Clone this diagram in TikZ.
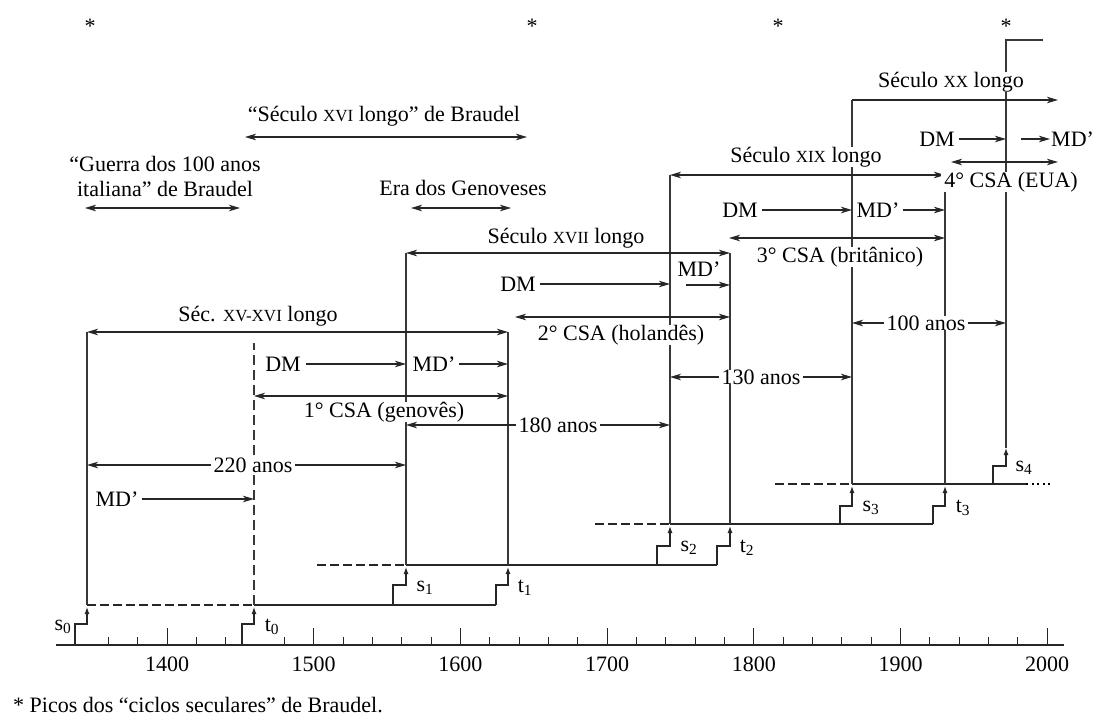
\documentclass[tikz,border=0pt]{standalone}
\usepackage{fontspec}
\setmainfont{Liberation Serif}
\usetikzlibrary{arrows.meta}
\newcommand{\romsc}[1]{{\fontsize{17}{20}\selectfont #1}}
\begin{document}
\begin{tikzpicture}[x=1pt,y=-1pt,
  txt/.style={font=\fontsize{22}{25}\selectfont, inner sep=1pt},
  gap/.style={txt, fill=white, inner xsep=3pt, inner ysep=0pt},
  vline/.style={line width=2.6pt, draw=black!78},
  hl/.style={line width=1.1pt, draw=black!85},
  dbl/.style={hl, {Stealth[length=11pt,width=6.5pt,inset=3pt]}-{Stealth[length=11pt,width=6.5pt,inset=3pt]}},
  rar/.style={hl, -{Stealth[length=11pt,width=6.5pt,inset=3pt]}},
  lev/.style={line width=1.4pt, draw=black!85},
  dlev/.style={lev, dash pattern=on 9pt off 4pt},
  stp/.style={line width=1.2pt, draw=black!85, -{Latex[length=7pt,width=5pt]}},
  tickmark/.style={line width=1pt, draw=black!85},
]
\useasboundingbox (0,0) rectangle (1099,719);

% ---------- named points of the vertical lines ----------
\coordinate (s0b) at (87,605);   \coordinate (s0t) at (87,332);
\coordinate (t0b) at (254,605);  \coordinate (t0t) at (254,343);
\coordinate (s1b) at (406,565);  \coordinate (s1t) at (406,253);
\coordinate (t1b) at (508,565);  \coordinate (t1t) at (508,332);
\coordinate (s2b) at (670,524);  \coordinate (s2t) at (670,175);
\coordinate (t2b) at (730,524);  \coordinate (t2t) at (730,253);
\coordinate (s3b) at (852,484);  \coordinate (s3t) at (852,100);
\coordinate (t3b) at (945,484);  \coordinate (t3t) at (945,175);
\coordinate (s4b) at (1006,448); \coordinate (s4t) at (1006,40); \coordinate (s4r) at (1043,40);

% ---------- time axis ----------
\coordinate (ax0) at (56,645); \coordinate (ax1) at (1064,645);
\draw[lev] (ax0) -- (ax1);
\foreach \yr in {1360,1380,...,2000}{
  \ifnum\yr=1460\relax\else
  \pgfmathsetmacro{\xx}{167+(\yr-1400)*1.467}
  \pgfmathsetmacro{\hh}{mod(\yr,100)==0 ? 17 : 8}
  \draw[tickmark] (\xx,645) -- (\xx,645-\hh);
  \fi
}
\foreach \yr in {1400,1500,...,2000}{
  \node[txt] (y\yr) at ({167+(\yr-1400)*1.467},664) {\yr};
}

% ---------- levels ----------
\coordinate (t1s) at (496,605);
\coordinate (L2a) at (317,565); \coordinate (t2s) at (717,565);
\coordinate (L3a) at (595,524); \coordinate (t3s) at (933,524);
\coordinate (L4a) at (775,484); \coordinate (L4e) at (1026,484); \coordinate (L4d) at (1050,484);
\draw[dlev] (s0b) -- (t0b);
\draw[lev] (t0b) -- (t1s);
\draw[dlev] (L2a) -- (s1b);
\draw[lev] (s1b) -- (t2s);
\draw[dlev] (L3a) -- (s2b);
\draw[lev] (s2b) -- (t3s);
\draw[dlev] (L4a) -- (s3b);
\draw[lev] (s3b) -- (L4e);
\draw[line width=1.8pt, dash pattern=on 2pt off 3.5pt] (L4e) -- (L4d);

% ---------- small steps with arrows ----------
\draw[stp] (75,645) |- (87,624) -- (87,607);
\draw[stp] (242,645) |- (254,624) -- (254,607);
\draw[stp] (393,605) |- (406,585) -- (406,567);
\draw[stp] (496,605) |- (508,585) -- (508,567);
\draw[stp] (657,565) |- (670,546) -- (670,526);
\draw[stp] (717,565) |- (730,546) -- (730,526);
\draw[stp] (840,524) |- (852,506) -- (852,486);
\draw[stp] (933,524) |- (945,506) -- (945,486);
\draw[stp] (993,484) |- (1006,466) -- (1006,448);
\node[txt] (ls0) at (63,627) {s\textsubscript{0}};
\node[txt] (lt0) at (272,627) {t\textsubscript{0}};
\node[txt] (ls1) at (425,588) {s\textsubscript{1}};
\node[txt] (lt1) at (525,588) {t\textsubscript{1}};
\node[txt] (ls2) at (689,548) {s\textsubscript{2}};
\node[txt] (lt2) at (747,548) {t\textsubscript{2}};
\node[txt] (ls3) at (871,508) {s\textsubscript{3}};
\node[txt] (lt3) at (963,508) {t\textsubscript{3}};
\node[txt] (ls4) at (1024,468) {s\textsubscript{4}};

% ---------- vertical lines ----------
\draw[vline] (s0b) -- (s0t);
\draw[vline, dash pattern=on 10pt off 5pt] (t0b) -- (t0t);
\draw[vline] (s1b) -- (s1t);
\draw[vline] (t1b) -- (t1t);
\draw[vline] (s2b) -- (s2t);
\draw[vline] (t2b) -- (t2t);
\draw[vline] (s3b) -- (s3t);
\draw[vline] (t3b) -- (t3t);
\draw[vline] (s4b) -- (s4t) -- (s4r);

% ---------- long centuries ----------
\coordinate (xxe) at (1058,100);
\draw[dbl] (s0t) -- (t1t);
\draw[dbl] (s1t) -- (t2t);
\draw[dbl] (s2t) -- (t3t);
\draw[rar] (s3t) -- (xxe);
\node[txt] (c15) at (258,316) {Séc. \romsc{XV-XVI} longo};
\node[txt] (c17) at (566,238) {Século \romsc{XVII} longo};
\node[gap] (c19) at (806,157) {Século \romsc{XIX} longo};
\node[gap] (c20) at (951,82) {Século \romsc{XX} longo};

% ---------- Braudel's periods ----------
\node[txt] (st1) at (90,26) {*};
\node[txt] (st2) at (532,26) {*};
\node[txt] (st3) at (778,26) {*};
\node[txt] (st4) at (1006,26) {*};
\node[txt] (b16) at (384,116) {“Século \romsc{XVI} longo” de Braudel};
\coordinate (b16l) at (245,137); \coordinate (b16r) at (527,137);
\draw[dbl] (b16l) -- (b16r);
\node[txt, align=center] (g100) at (165,176) {“Guerra dos 100 anos\\italiana” de Braudel};
\coordinate (g100l) at (85,208); \coordinate (g100r) at (240,208);
\draw[dbl] (g100l) -- (g100r);
\node[txt] (gen) at (463,188) {Era dos Genoveses};
\coordinate (genl) at (411,208); \coordinate (genr) at (511,208);
\draw[dbl] (genl) -- (genr);

% ---------- 1st cycle (Genoese) ----------
\node[txt] (dm1) at (283,364) {DM};
\coordinate (dm1e) at (406,364);
\draw[rar] (dm1.east) ++(4,0) -- (dm1e);
\node[txt] (md1) at (434,364) {MD’};
\coordinate (md1e) at (508,364);
\draw[rar] (md1.east) ++(2,0) -- (md1e);
\coordinate (csa1l) at (254,396); \coordinate (csa1r) at (508,396);
\draw[dbl] (csa1l) -- (csa1r);
\node[gap] (csa1) at (384,412) {1° CSA (genovês)};
\coordinate (a180l) at (406,425); \coordinate (a180r) at (670,425);
\draw[dbl] (a180l) -- (a180r);
\node[gap] (n180) at (558,425) {180 anos};
\coordinate (a220l) at (87,465); \coordinate (a220r) at (406,465);
\draw[dbl] (a220l) -- (a220r);
\node[gap] (n220) at (253,465) {220 anos};
\node[txt] (md0) at (117,499) {MD’};
\coordinate (md0e) at (254,499);
\draw[rar] (md0.east) ++(2,0) -- (md0e);

% ---------- 2nd cycle (Dutch) ----------
\node[txt] (dm2) at (518,284) {DM};
\coordinate (dm2e) at (670,284);
\draw[rar] (dm2.east) ++(3,0) -- (dm2e);
\node[txt] (md2) at (699,269) {MD’};
\coordinate (md2s) at (686,285); \coordinate (md2e) at (730,285);
\draw[rar] (md2s) -- (md2e);
\coordinate (csa2l) at (515,317); \coordinate (csa2r) at (730,317);
\draw[dbl] (csa2l) -- (csa2r);
\node[gap] (csa2) at (621,335) {2° CSA (holandês)};
\coordinate (a130l) at (670,377); \coordinate (a130r) at (852,377);
\draw[dbl] (a130l) -- (a130r);
\node[gap] (n130) at (761,377) {130 anos};

% ---------- 3rd cycle (British) ----------
\node[txt] (dm3) at (740,210) {DM};
\coordinate (dm3e) at (852,210);
\draw[rar] (dm3.east) ++(3,0) -- (dm3e);
\node[txt] (md3) at (878,210) {MD’};
\coordinate (md3e) at (945,210);
\draw[rar] (md3.east) ++(2,0) -- (md3e);
\coordinate (csa3l) at (729,238); \coordinate (csa3r) at (945,238);
\draw[dbl] (csa3l) -- (csa3r);
\node[gap] (csa3) at (840,257) {3° CSA (britânico)};
\coordinate (a100l) at (852,323); \coordinate (a100r) at (1006,323);
\draw[dbl] (a100l) -- (a100r);
\node[gap] (n100) at (926,323) {100 anos};

% ---------- 4th cycle (US) ----------
\node[txt] (dm4) at (937,139) {DM};
\coordinate (dm4e) at (1006,139);
\draw[rar] (dm4.east) ++(3,0) -- (dm4e);
\node[txt, anchor=west] (md4) at (1050,139) {MD’};
\coordinate (md4s) at (1021,139);
\draw[rar] (md4s) -- (md4.west);
\coordinate (csa4l) at (951,162); \coordinate (csa4r) at (1058,162);
\draw[dbl] (csa4l) -- (csa4r);
\node[gap] (csa4) at (1011,182) {4° CSA (EUA)};

% ---------- footnote ----------
\node[txt, anchor=west] (foot) at (12,705) {* Picos dos “ciclos seculares” de Braudel.};
\end{tikzpicture}
\end{document}
